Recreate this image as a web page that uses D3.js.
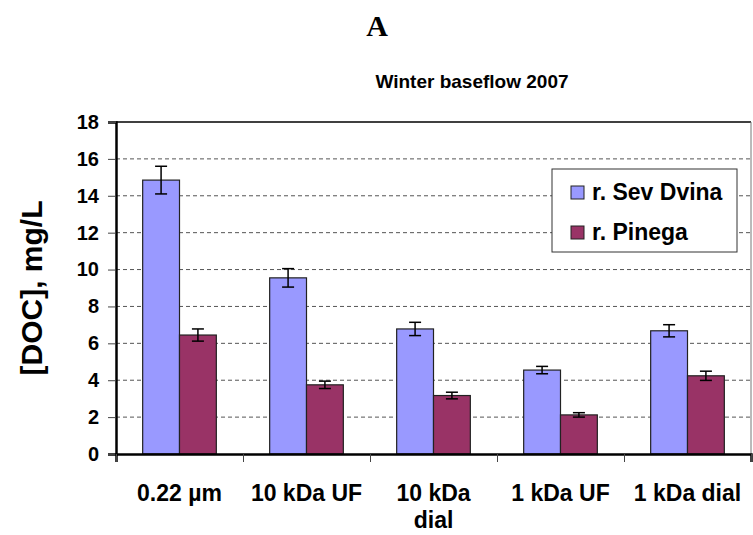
<!DOCTYPE html>
<html>
<head>
<meta charset="utf-8">
<script src="https://cdn.jsdelivr.net/npm/d3@7"></script>
<style>
  body { margin: 0; background: #fff; }
  text { font-family: Arial, "Liberation Sans", sans-serif; font-weight: bold; fill: #000; }
</style>
</head>
<body>
<svg id="chart" width="753" height="535"></svg>
<script>
const categories = ["0.22 µm", "10 kDa UF", "10 kDa\ndial", "1 kDa UF", "1 kDa dial"];
const series = ["r. Sev Dvina", "r. Pinega"];
const sevDvina = [14.85, 9.55, 6.78, 4.55, 6.68];
const sevDvinaErr = [0.75, 0.5, 0.36, 0.2, 0.33];
const pinega = [6.45, 3.75, 3.17, 2.12, 4.24];
const pinegaErr = [0.33, 0.2, 0.18, 0.12, 0.25];
const yTicks = [0, 2, 4, 6, 8, 10, 12, 14, 16, 18];
const colors = ["#9999ff", "#993366"];

const svg = d3.select("#chart");
const plotLeft = 116, plotRight = 751, plotTop = 122, plotBottom = 454;

const x0 = d3.scaleBand().domain(categories).range([plotLeft, plotRight]);
const bw = x0.bandwidth();
const x1 = d3.scaleBand().domain(series).range([bw * 0.21, bw * 0.79]);
const y = d3.scaleLinear().domain([0, 18]).range([plotBottom, plotTop]);

// gridlines
svg.append("g")
  .selectAll("line")
  .data(yTicks.filter(d => d > 0 && d < 18))
  .enter()
  .append("line")
  .attr("x1", plotLeft).attr("x2", plotRight)
  .attr("y1", d => y(d)).attr("y2", d => y(d))
  .attr("stroke", "#555")
  .attr("stroke-dasharray", "4,3");

// plot border (top / right)
svg.append("line").attr("x1", plotLeft).attr("x2", plotRight).attr("y1", plotTop).attr("y2", plotTop)
  .attr("stroke", "#000").attr("stroke-width", 1.5);
svg.append("line").attr("x1", plotRight).attr("x2", plotRight).attr("y1", plotTop).attr("y2", plotBottom)
  .attr("stroke", "#777");

// bars
const rows = categories.map((c, i) => ({
  cat: c,
  vals: [
    { s: series[0], v: sevDvina[i], e: sevDvinaErr[i] },
    { s: series[1], v: pinega[i], e: pinegaErr[i] }
  ]
}));

const groups = svg.append("g")
  .selectAll("g")
  .data(rows)
  .enter()
  .append("g")
  .attr("transform", d => `translate(${x0(d.cat)},0)`);

groups.selectAll("rect")
  .data(d => d.vals)
  .enter()
  .append("rect")
  .attr("x", d => x1(d.s))
  .attr("y", d => y(d.v))
  .attr("width", x1.bandwidth())
  .attr("height", d => plotBottom - y(d.v))
  .attr("fill", (d, i) => colors[i])
  .attr("stroke", "#222")
  .attr("stroke-width", 1.2);

// error bars
const err = groups.selectAll(".err")
  .data(d => d.vals)
  .enter()
  .append("g")
  .attr("class", "err")
  .attr("stroke", "#000")
  .attr("stroke-width", 1.5);
err.append("line")
  .attr("x1", d => x1(d.s) + x1.bandwidth() / 2)
  .attr("x2", d => x1(d.s) + x1.bandwidth() / 2)
  .attr("y1", d => y(d.v + d.e))
  .attr("y2", d => y(d.v - d.e));
[1, -1].forEach(sign => {
  err.append("line")
    .attr("x1", d => x1(d.s) + x1.bandwidth() / 2 - 6)
    .attr("x2", d => x1(d.s) + x1.bandwidth() / 2 + 6)
    .attr("y1", d => y(d.v + sign * d.e))
    .attr("y2", d => y(d.v + sign * d.e));
});

// y axis
const yAxis = svg.append("g")
  .attr("transform", `translate(${plotLeft},0)`)
  .call(d3.axisLeft(y).tickValues(yTicks).tickSize(8).tickPadding(9));
yAxis.select(".domain").attr("stroke", "#000").attr("stroke-width", 2.5);
yAxis.selectAll(".tick line").attr("stroke", "#444");
yAxis.selectAll("text").attr("font-size", 20).attr("font-family", "Arial").attr("font-weight", "bold");

// x axis: boundary ticks
const xb = d3.scaleLinear().domain([0, categories.length]).range([plotLeft, plotRight]);
const xAxis = svg.append("g")
  .attr("transform", `translate(0,${plotBottom})`)
  .call(d3.axisBottom(xb).ticks(categories.length).tickSize(8).tickFormat(""));
xAxis.select(".domain").attr("stroke", "#000").attr("stroke-width", 2.5);
xAxis.selectAll(".tick line").attr("stroke", "#444");

// category labels
const labels = svg.append("g")
  .selectAll("text")
  .data(categories)
  .enter()
  .append("text")
  .attr("text-anchor", "middle")
  .attr("font-size", 23)
  .attr("x", d => x0(d) + bw / 2)
  .attr("y", 501);
labels.selectAll("tspan")
  .data(d => d.split("\n"))
  .enter()
  .append("tspan")
  .attr("x", function() { return this.parentNode.getAttribute("x"); })
  .attr("dy", (d, i) => i === 0 ? 0 : 27)
  .text(d => d);

// y title
svg.append("text")
  .attr("transform", `translate(42,${(plotTop + plotBottom) / 2}) rotate(-90)`)
  .attr("text-anchor", "middle")
  .attr("font-size", 30)
  .text("[DOC], mg/L");

// headings
svg.append("text")
  .attr("x", 377).attr("y", 36)
  .attr("text-anchor", "middle")
  .style("font-family", "'Times New Roman', 'Liberation Serif', serif")
  .attr("font-size", 30)
  .text("A");
svg.append("text")
  .attr("x", 472).attr("y", 88)
  .attr("text-anchor", "middle")
  .attr("font-size", 19)
  .text("Winter baseflow 2007");

// legend
const legend = svg.append("g").attr("transform", "translate(552,169)");
legend.append("rect")
  .attr("width", 185).attr("height", 83)
  .attr("fill", "#fff").attr("stroke", "#333");
const items = legend.selectAll(".item")
  .data(series)
  .enter()
  .append("g")
  .attr("transform", (d, i) => `translate(19,${17 + i * 40})`);
items.append("rect")
  .attr("width", 13).attr("height", 13)
  .attr("fill", (d, i) => colors[i])
  .attr("stroke", "#222");
items.append("text")
  .attr("x", 21).attr("y", 14)
  .attr("font-size", 23)
  .text(d => d);
</script>
</body>
</html>
